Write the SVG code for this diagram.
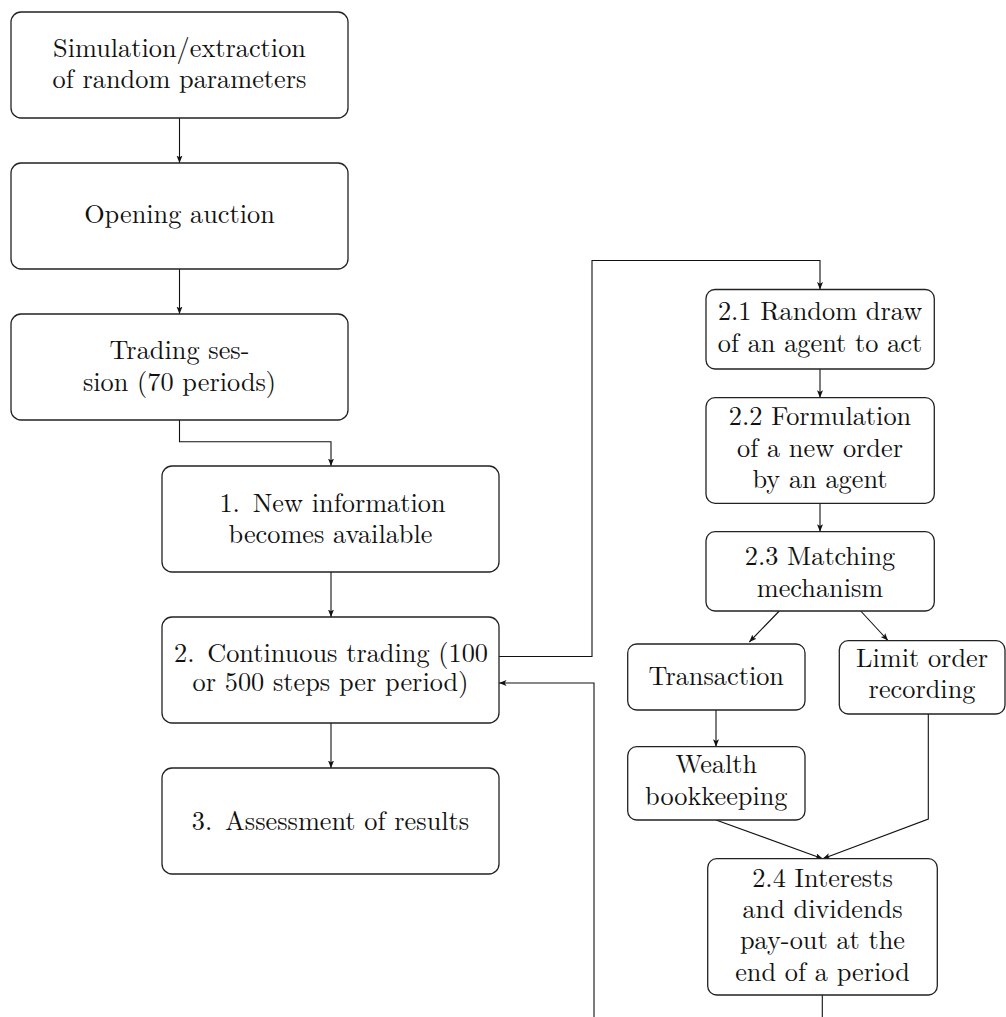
<svg xmlns="http://www.w3.org/2000/svg" width="1006" height="1017" viewBox="0 0 1006 1017">
<style>
.box{fill:#fff;stroke:#222;stroke-width:1.3}
.t{font-size:26.3px;fill:#111;text-anchor:middle}
.c{fill:none;stroke:#111;stroke-width:1.1}
</style>
<defs>
<marker id="ah" markerUnits="userSpaceOnUse" markerWidth="10" markerHeight="8" refX="7.5" refY="3" orient="auto">
<path d="M0,0 L7.5,3 L0,6 L1.8,3 z" fill="#111"/>
</marker>
</defs>
<rect width="1006" height="1017" fill="#fff"/>
<g id="connectors">
<path class="c" d="M179.5,118 V163" marker-end="url(#ah)"/>
<path class="c" d="M179.5,269 V314" marker-end="url(#ah)"/>
<path class="c" d="M179.5,420 V441.7 H331 V466" marker-end="url(#ah)"/>
<path class="c" d="M331,572 V617" marker-end="url(#ah)"/>
<path class="c" d="M331,723 V768" marker-end="url(#ah)"/>
<path class="c" d="M499,656.5 H592 V260.5 H820 V289.5" marker-end="url(#ah)"/>
<path class="c" d="M820,369 V397.7" marker-end="url(#ah)"/>
<path class="c" d="M820,503.3 V531.7" marker-end="url(#ah)"/>
<path class="c" d="M779.3,611 L749.3,642" marker-end="url(#ah)"/>
<path class="c" d="M860.7,611 L888,640.5" marker-end="url(#ah)"/>
<path class="c" d="M716,710 V746.7" marker-end="url(#ah)"/>
<path class="c" d="M716,820 L822.7,858.7" marker-end="url(#ah)"/>
<path class="c" d="M928.3,714 V819 L822.7,858.7" marker-end="url(#ah)"/>
<path class="c" d="M822.3,995 V1030 H594 V683 H499" marker-end="url(#ah)"/>
</g>
<g font-family="'Latin Modern Roman', 'Liberation Serif', serif">
<g id="n_sim">
<rect class="box" x="11" y="12" width="337" height="106" rx="10"/>
<text class="t"><tspan x="179.5" y="56.7">Simulation/extraction</tspan><tspan x="179.5" y="88.3">of random parameters</tspan></text>
</g>
<g id="n_open">
<rect class="box" x="11" y="163" width="337" height="106" rx="10"/>
<text class="t" x="179.5" y="223">Opening auction</text>
</g>
<g id="n_session">
<rect class="box" x="11" y="314" width="337" height="106" rx="10"/>
<text class="t"><tspan x="179.5" y="359">Trading ses-</tspan><tspan x="179.5" y="390.5">sion (70 periods)</tspan></text>
</g>
<g id="n_info">
<rect class="box" x="162" y="466" width="337" height="106" rx="10"/>
<text class="t"><tspan x="332.5" y="511.7">1.</tspan><tspan dx="4"> New information</tspan><tspan x="330.5" y="543">becomes available</tspan></text>
</g>
<g id="n_cont">
<rect class="box" x="162" y="617" width="337" height="106" rx="10"/>
<text class="t"><tspan x="331" y="661.7">2.</tspan><tspan dx="4"> Continuous trading (100</tspan><tspan x="330.5" y="690.7">or 500 steps per period)</tspan></text>
</g>
<g id="n_assess">
<rect class="box" x="162" y="768" width="337" height="106" rx="10"/>
<text class="t"><tspan x="330.5" y="830">3.</tspan><tspan dx="4"> Assessment of results</tspan></text>
</g>
<g id="n_21">
<rect class="box" x="706" y="289.5" width="228.3" height="79.5" rx="9"/>
<text class="t"><tspan x="820" y="320">2.1 Random draw</tspan><tspan x="820" y="351.7">of an agent to act</tspan></text>
</g>
<g id="n_22">
<rect class="box" x="706" y="397.7" width="228.3" height="105.6" rx="9"/>
<text class="t"><tspan x="820" y="425">2.2 Formulation</tspan><tspan x="820" y="456.7">of a new order</tspan><tspan x="820" y="488.3">by an agent</tspan></text>
</g>
<g id="n_23">
<rect class="box" x="706" y="531.7" width="228.3" height="79.3" rx="9"/>
<text class="t"><tspan x="820" y="565">2.3 Matching</tspan><tspan x="820" y="596.7">mechanism</tspan></text>
</g>
<g id="n_trans">
<rect class="box" x="627.7" y="644" width="177.3" height="66" rx="9"/>
<text class="t" x="716.3" y="685">Transaction</text>
</g>
<g id="n_limit">
<rect class="box" x="839.3" y="640.7" width="165.7" height="73.3" rx="9"/>
<text class="t"><tspan x="922" y="666.7">Limit order</tspan><tspan x="922" y="698.3">recording</tspan></text>
</g>
<g id="n_wealth">
<rect class="box" x="627.7" y="746.7" width="177.3" height="73.3" rx="9"/>
<text class="t"><tspan x="716.3" y="773.3">Wealth</tspan><tspan x="716.3" y="805">bookkeeping</tspan></text>
</g>
<g id="n_24">
<rect class="box" x="707.7" y="858.7" width="229.6" height="136.3" rx="9"/>
<text class="t"><tspan x="822.5" y="886.7">2.4 Interests</tspan><tspan x="822.5" y="918.3">and dividends</tspan><tspan x="822.5" y="949.3">pay-out at the</tspan><tspan x="822.5" y="980.7">end of a period</tspan></text>
</g>
</g>
</svg>
